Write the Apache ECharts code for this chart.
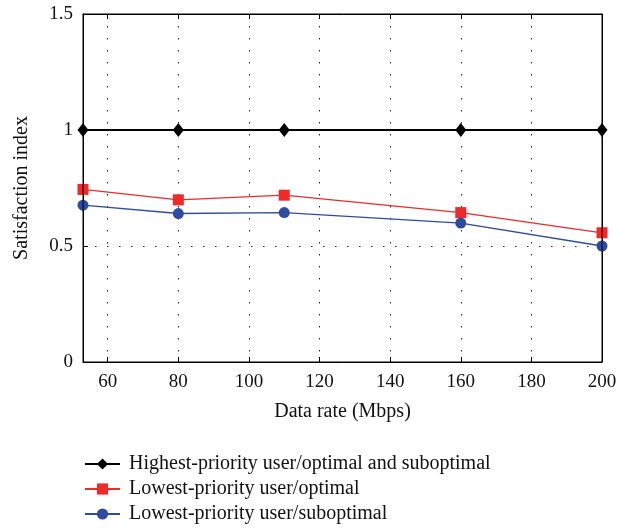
<!DOCTYPE html>
<html>
<head>
<meta charset="utf-8">
<script src="https://cdn.jsdelivr.net/npm/echarts@6/dist/echarts.min.js"></script>
<style>html,body{margin:0;padding:0;background:#fff;}#c{width:634px;height:529px;}</style>
</head>
<body>
<div id="c"></div>
<script>
const dataRates = [53, 80, 110, 160, 200];
const highestAll = [1, 1, 1, 1, 1];
const lowestOptimal = [0.744, 0.699, 0.719, 0.644, 0.557];
const lowestSuboptimal = [0.676, 0.640, 0.644, 0.599, 0.500];
const xTicks = [60, 80, 100, 120, 140, 160, 180, 200];
const seriesNames = ['Highest-priority user/optimal and suboptimal', 'Lowest-priority user/optimal', 'Lowest-priority user/suboptimal'];

const FONT = '"Liberation Serif", "DejaVu Serif", serif';
const chart = echarts.init(document.getElementById('c'));
const pair = arr => dataRates.map((x, i) => [x, arr[i]]);
const dotted = { show: true, lineStyle: { color: '#222', width: 1, type: [1.5, 10.5] } };

chart.setOption({
  animation: false,
  backgroundColor: '#fff',
  grid: { left: 83, right: 32, top: 14, bottom: 167, show: true, borderColor: '#000', borderWidth: 1, z: 10 },
  legend: {
    orient: 'vertical', left: 84, top: 454, padding: 0, itemWidth: 35, itemHeight: 14, itemGap: 5,
    height: 75,
    textStyle: { fontFamily: FONT, fontSize: 20, lineHeight: 20, color: '#111', padding: [0, 0, 0, 4] },
    data: seriesNames
  },
  xAxis: [{
    type: 'value', min: 53, max: 200,
    name: 'Data rate (Mbps)', nameLocation: 'middle', nameGap: 40,
    nameTextStyle: { fontFamily: FONT, fontSize: 20, color: '#111' },
    axisLine: { show: true, onZero: false, lineStyle: { color: '#000', width: 1 } },
    axisTick: { show: true, inside: true, length: 5, customValues: xTicks, lineStyle: { color: '#000' } },
    axisLabel: { customValues: xTicks, fontFamily: FONT, fontSize: 19, color: '#111', margin: 11 },
    splitLine: dotted
  }, {
    type: 'value', min: 53, max: 200, position: 'top',
    axisLine: { show: true, onZero: false, lineStyle: { color: '#000' } },
    axisTick: { show: true, inside: true, length: 5, customValues: xTicks, lineStyle: { color: '#000' } },
    axisLabel: { show: false, customValues: xTicks },
    splitLine: { show: false }
  }],
  yAxis: [{
    type: 'value', min: 0, max: 1.5, interval: 0.5,
    name: 'Satisfaction index', nameLocation: 'middle', nameGap: 51,
    nameTextStyle: { fontFamily: FONT, fontSize: 20, color: '#111' },
    axisLine: { show: true, onZero: false, lineStyle: { color: '#000', width: 1 } },
    axisTick: { show: true, inside: true, length: 5, lineStyle: { color: '#000' } },
    axisLabel: { fontFamily: FONT, fontSize: 19, color: '#111', margin: 10, formatter: v => String(v) },
    splitLine: dotted
  }, {
    type: 'value', min: 0, max: 1.5, interval: 0.5, position: 'right',
    axisLine: { show: true, onZero: false, lineStyle: { color: '#000' } },
    axisTick: { show: true, inside: true, length: 5, lineStyle: { color: '#000' } },
    axisLabel: { show: false },
    splitLine: { show: false }
  }],
  series: [{
    name: seriesNames[0], type: 'line', data: pair(highestAll),
    symbol: 'diamond', symbolSize: [11, 14],
    lineStyle: { color: '#000', width: 2 }, itemStyle: { color: '#000' }, z: 3
  }, {
    name: seriesNames[1], type: 'line', data: pair(lowestOptimal),
    symbol: 'rect', symbolSize: 11,
    lineStyle: { color: '#ee2a2a', width: 1.3 }, itemStyle: { color: '#ee2a2a' }, z: 4
  }, {
    name: seriesNames[2], type: 'line', data: pair(lowestSuboptimal),
    symbol: 'circle', symbolSize: 11,
    lineStyle: { color: '#2d4c9f', width: 1.3 }, itemStyle: { color: '#2d4c9f' }, z: 5
  }]
});
</script>
</body>
</html>
